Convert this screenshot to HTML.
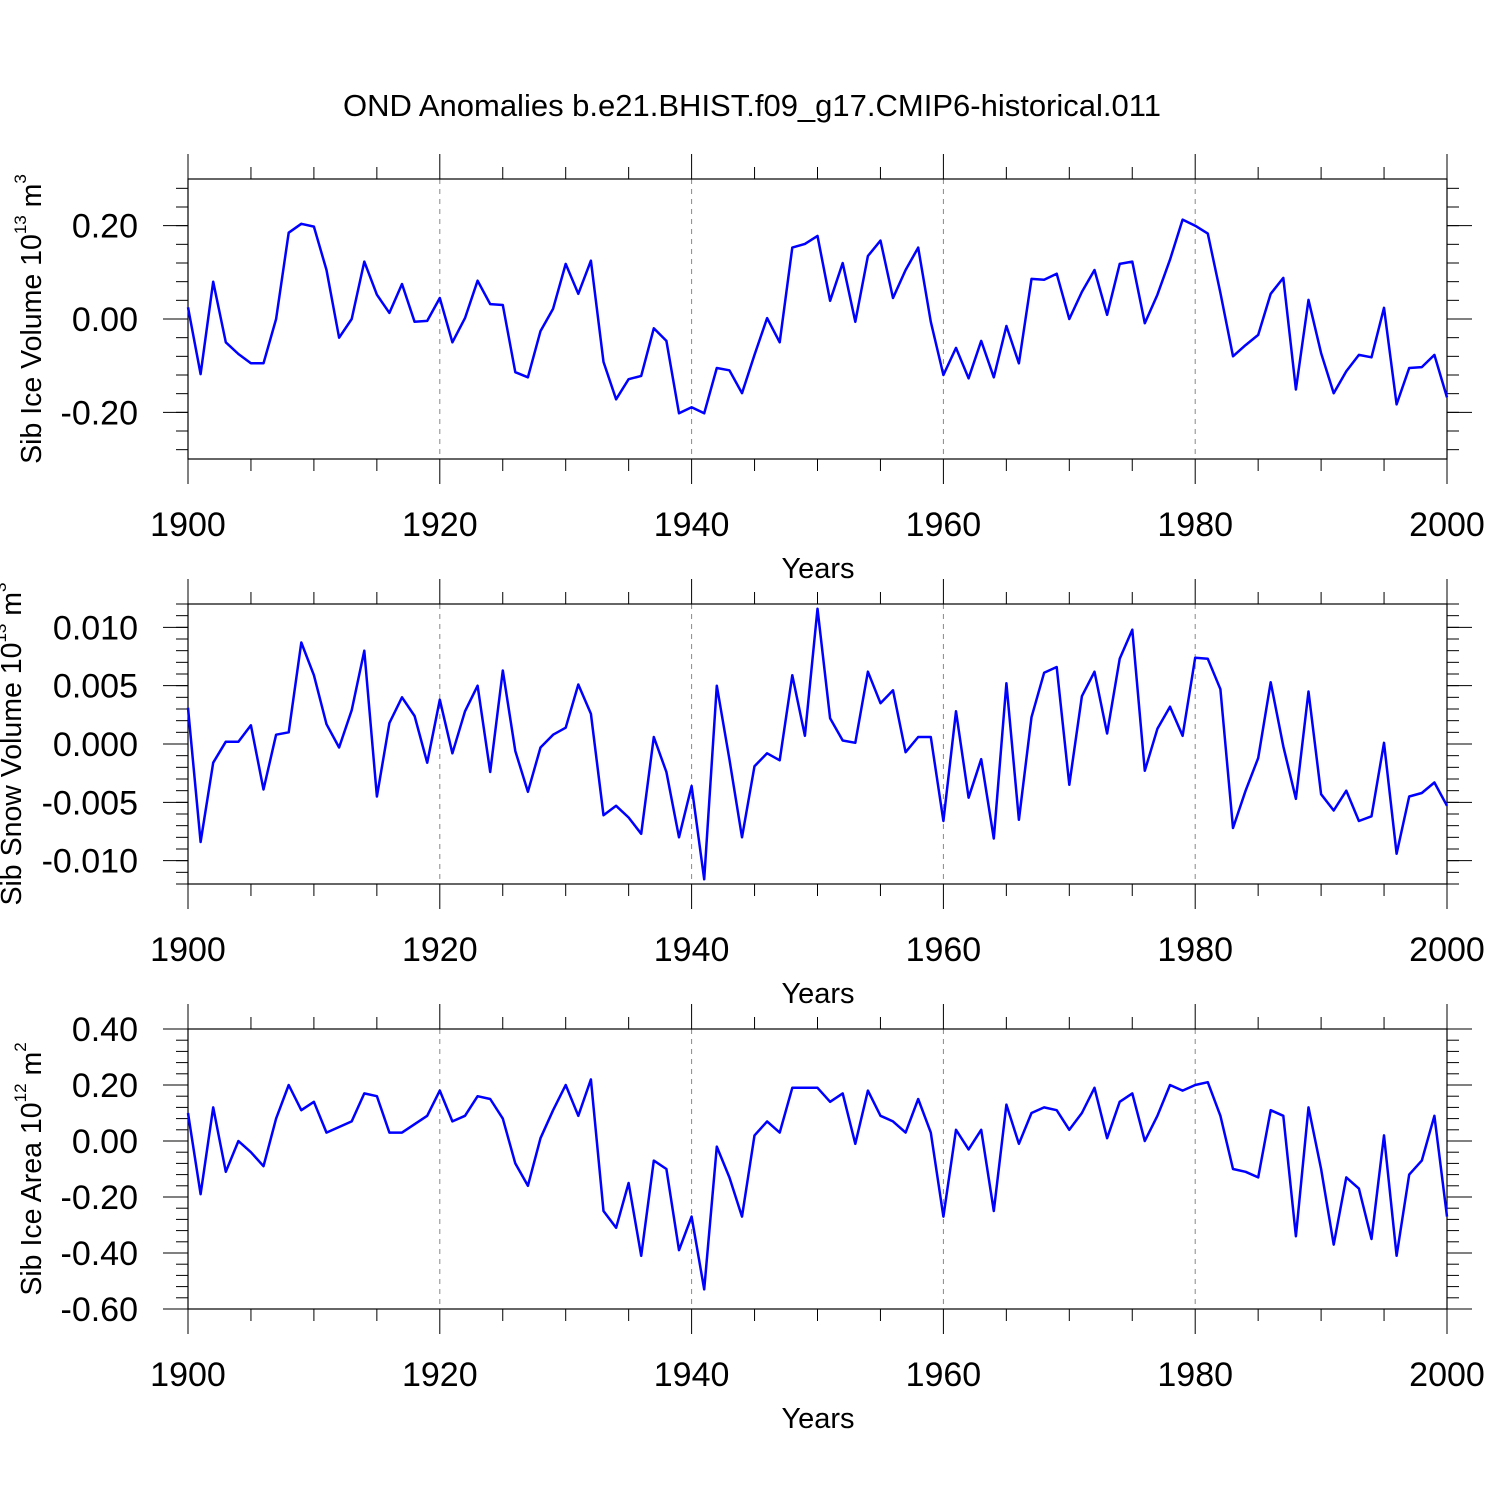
<!DOCTYPE html>
<html><head><meta charset="utf-8"><style>
html,body{margin:0;padding:0;background:#fff;}
svg text{font-family:"Liberation Sans",sans-serif;fill:#000;}
</style></head><body>
<svg id="chart" width="1500" height="1500" xmlns="http://www.w3.org/2000/svg">
<text x="752" y="116" font-size="31" text-anchor="middle">OND Anomalies b.e21.BHIST.f09_g17.CMIP6-historical.011</text>
</svg>
<script>
const years = [];
for (let y = 1900; y <= 2000; y++) years.push(y);
const iceVolume = [0.025,-0.118,0.08,-0.05,-0.075,-0.095,-0.095,0.0,0.185,0.204,0.198,0.105,-0.04,0.0,0.123,0.052,0.013,0.075,-0.006,-0.004,
0.045,-0.05,0.002,0.082,0.032,0.03,-0.114,-0.125,-0.026,0.022,0.118,0.054,0.125,-0.092,-0.172,-0.129,-0.122,-0.02,-0.047,-0.202,
-0.189,-0.202,-0.105,-0.11,-0.159,-0.077,0.002,-0.05,0.153,0.161,0.178,0.039,0.12,-0.006,0.135,0.168,0.045,0.105,0.153,-0.006,
-0.12,-0.062,-0.127,-0.047,-0.125,-0.015,-0.095,0.086,0.084,0.097,0.0,0.058,0.105,0.009,0.118,0.123,-0.009,0.052,0.127,0.213,
0.2,0.183,0.056,-0.08,-0.056,-0.034,0.054,0.088,-0.151,0.041,-0.073,-0.159,-0.112,-0.077,-0.082,0.024,-0.183,-0.105,-0.103,-0.077,-0.168];
const snowVolume = [3.1,-8.4,-1.6,0.2,0.2,1.6,-3.9,0.8,1.0,8.7,5.9,1.7,-0.3,2.9,8.0,-4.5,1.8,4.0,2.4,-1.6,
3.8,-0.8,2.8,5.0,-2.4,6.3,-0.6,-4.1,-0.3,0.8,1.4,5.1,2.6,-6.1,-5.3,-6.3,-7.7,0.6,-2.4,-8.0,
-3.6,-11.6,5.0,-1.3,-8.0,-1.9,-0.8,-1.4,5.9,0.7,11.6,2.2,0.3,0.1,6.2,3.5,4.6,-0.7,0.6,0.6,
-6.6,2.8,-4.6,-1.3,-8.1,5.2,-6.5,2.3,6.1,6.6,-3.5,4.1,6.2,0.9,7.3,9.8,-2.3,1.3,3.2,0.7,
7.4,7.3,4.7,-7.2,-4.0,-1.2,5.3,-0.2,-4.7,4.5,-4.3,-5.7,-4.0,-6.6,-6.2,0.1,-9.4,-4.5,-4.2,-3.3,-5.3].map(v=>v/1000);
const iceArea = [0.10,-0.19,0.12,-0.11,0.0,-0.04,-0.09,0.08,0.20,0.11,0.14,0.03,0.05,0.07,0.17,0.16,0.03,0.03,0.06,0.09,
0.18,0.07,0.09,0.16,0.15,0.08,-0.08,-0.16,0.01,0.11,0.20,0.09,0.22,-0.25,-0.31,-0.15,-0.41,-0.07,-0.10,-0.39,
-0.27,-0.53,-0.02,-0.13,-0.27,0.02,0.07,0.03,0.19,0.19,0.19,0.14,0.17,-0.01,0.18,0.09,0.07,0.03,0.15,0.03,
-0.27,0.04,-0.03,0.04,-0.25,0.13,-0.01,0.10,0.12,0.11,0.04,0.10,0.19,0.01,0.14,0.17,0.0,0.09,0.20,0.18,
0.20,0.21,0.09,-0.10,-0.11,-0.13,0.11,0.09,-0.34,0.12,-0.10,-0.37,-0.13,-0.17,-0.35,0.02,-0.41,-0.12,-0.07,0.09,-0.27];
const xTickLabels = ["1900","1920","1940","1960","1980","2000"];
const ns = "http://www.w3.org/2000/svg";
const svg = document.getElementById('chart');
function mk(tag, attrs, parent){const e=document.createElementNS(ns,tag);for(const k in attrs)e.setAttribute(k,attrs[k]);(parent||svg).appendChild(e);return e;}
const X0=188,X1=1447;
function xs(y){return X0+(y-1900)*(X1-X0)/100;}
const panels=[
 {name:'ice-volume',data:iceVolume,top:179,bot:459,ymin:-0.3,ymax:0.3,major:0.2,minor:0.04,majStart:-0.2,dec:2,tx:32,title:['Sib Ice Volume 10','13',' m','3']},
 {name:'snow-volume',data:snowVolume,top:604,bot:884,ymin:-0.012,ymax:0.012,major:0.005,minor:0.001,majStart:-0.01,dec:3,tx:12,title:['Sib Snow Volume 10','13',' m','3']},
 {name:'ice-area',data:iceArea,top:1029,bot:1309,ymin:-0.6,ymax:0.4,major:0.2,minor:0.04,majStart:-0.6,dec:2,tx:32,title:['Sib Ice Area 10','12',' m','2']}
];
panels.forEach(p=>{
 const g=mk('g',{});
 
 
 const ys=v=>p.bot-(v-p.ymin)*(p.bot-p.top)/(p.ymax-p.ymin);
 [1920,1940,1960,1980].forEach(yr=>{const l=mk('line',{x1:xs(yr),x2:xs(yr),y1:p.top,y2:p.bot,stroke:'#888','stroke-width':1,'stroke-dasharray':'5,5'},g);
  });
 const r=mk('rect',{x:X0,y:p.top,width:X1-X0,height:p.bot-p.top,fill:'none',stroke:'#000','stroke-width':1.2},g);
 
 for(let yr=1900;yr<=2000;yr+=5){const len=(yr%20===0)?25:12;
  mk('line',{x1:xs(yr),x2:xs(yr),y1:p.top,y2:p.top-len,stroke:'#000','stroke-width':1},g);
  mk('line',{x1:xs(yr),x2:xs(yr),y1:p.bot,y2:p.bot+len,stroke:'#000','stroke-width':1},g);}
 xTickLabels.forEach(lbl=>{const t=mk('text',{x:xs(+lbl),y:p.bot+77,'font-size':34,'text-anchor':'middle'},g);t.textContent=lbl;
  });
 const xt=mk('text',{x:818,y:p.bot+119,'font-size':29,'text-anchor':'middle'},g);xt.textContent='Years';
 
 const eps=1e-9;
 for(let k=Math.ceil((p.ymin-eps)/p.minor);k*p.minor<=p.ymax+eps;k++){const v=k*p.minor;const y=ys(v);
  mk('line',{x1:X0,x2:X0-12,y1:y,y2:y,stroke:'#000','stroke-width':1},g);
  mk('line',{x1:X1,x2:X1+12,y1:y,y2:y,stroke:'#000','stroke-width':1},g);}
 for(let v=p.majStart;v<=p.ymax+eps;v+=p.major){const y=ys(v);
  mk('line',{x1:X0,x2:X0-25,y1:y,y2:y,stroke:'#000','stroke-width':1},g);
  mk('line',{x1:X1,x2:X1+25,y1:y,y2:y,stroke:'#000','stroke-width':1},g);
  let s=Math.abs(v)<eps?(0).toFixed(p.dec):v.toFixed(p.dec);
  const t=mk('text',{x:138,y:y+12,'font-size':34,'text-anchor':'end'},g);t.textContent=s;
  }
 const cy=(p.top+p.bot)/2;
 const yt=mk('text',{x:p.tx,y:cy,'font-size':28.5,'text-anchor':'middle','dominant-baseline':'central',transform:`rotate(-90 ${p.tx} ${cy})`},g);
 
 const parts=p.title;
 const a=mk('tspan',{},yt);a.textContent=parts[0];
 const b=mk('tspan',{dy:-12,'font-size':17},yt);b.textContent=parts[1];
 const c=mk('tspan',{dy:12},yt);c.textContent=parts[2];
 const d=mk('tspan',{dy:-12,'font-size':17},yt);d.textContent=parts[3];
 const pts=p.data.map((v,i)=>xs(years[i]).toFixed(1)+','+ys(v).toFixed(1)).join(' ');
 const pl=mk('polyline',{points:pts,fill:'none',stroke:'#0000ff','stroke-width':2.5,'stroke-linejoin':'round'},g);
 
});
</script>
</body></html>
